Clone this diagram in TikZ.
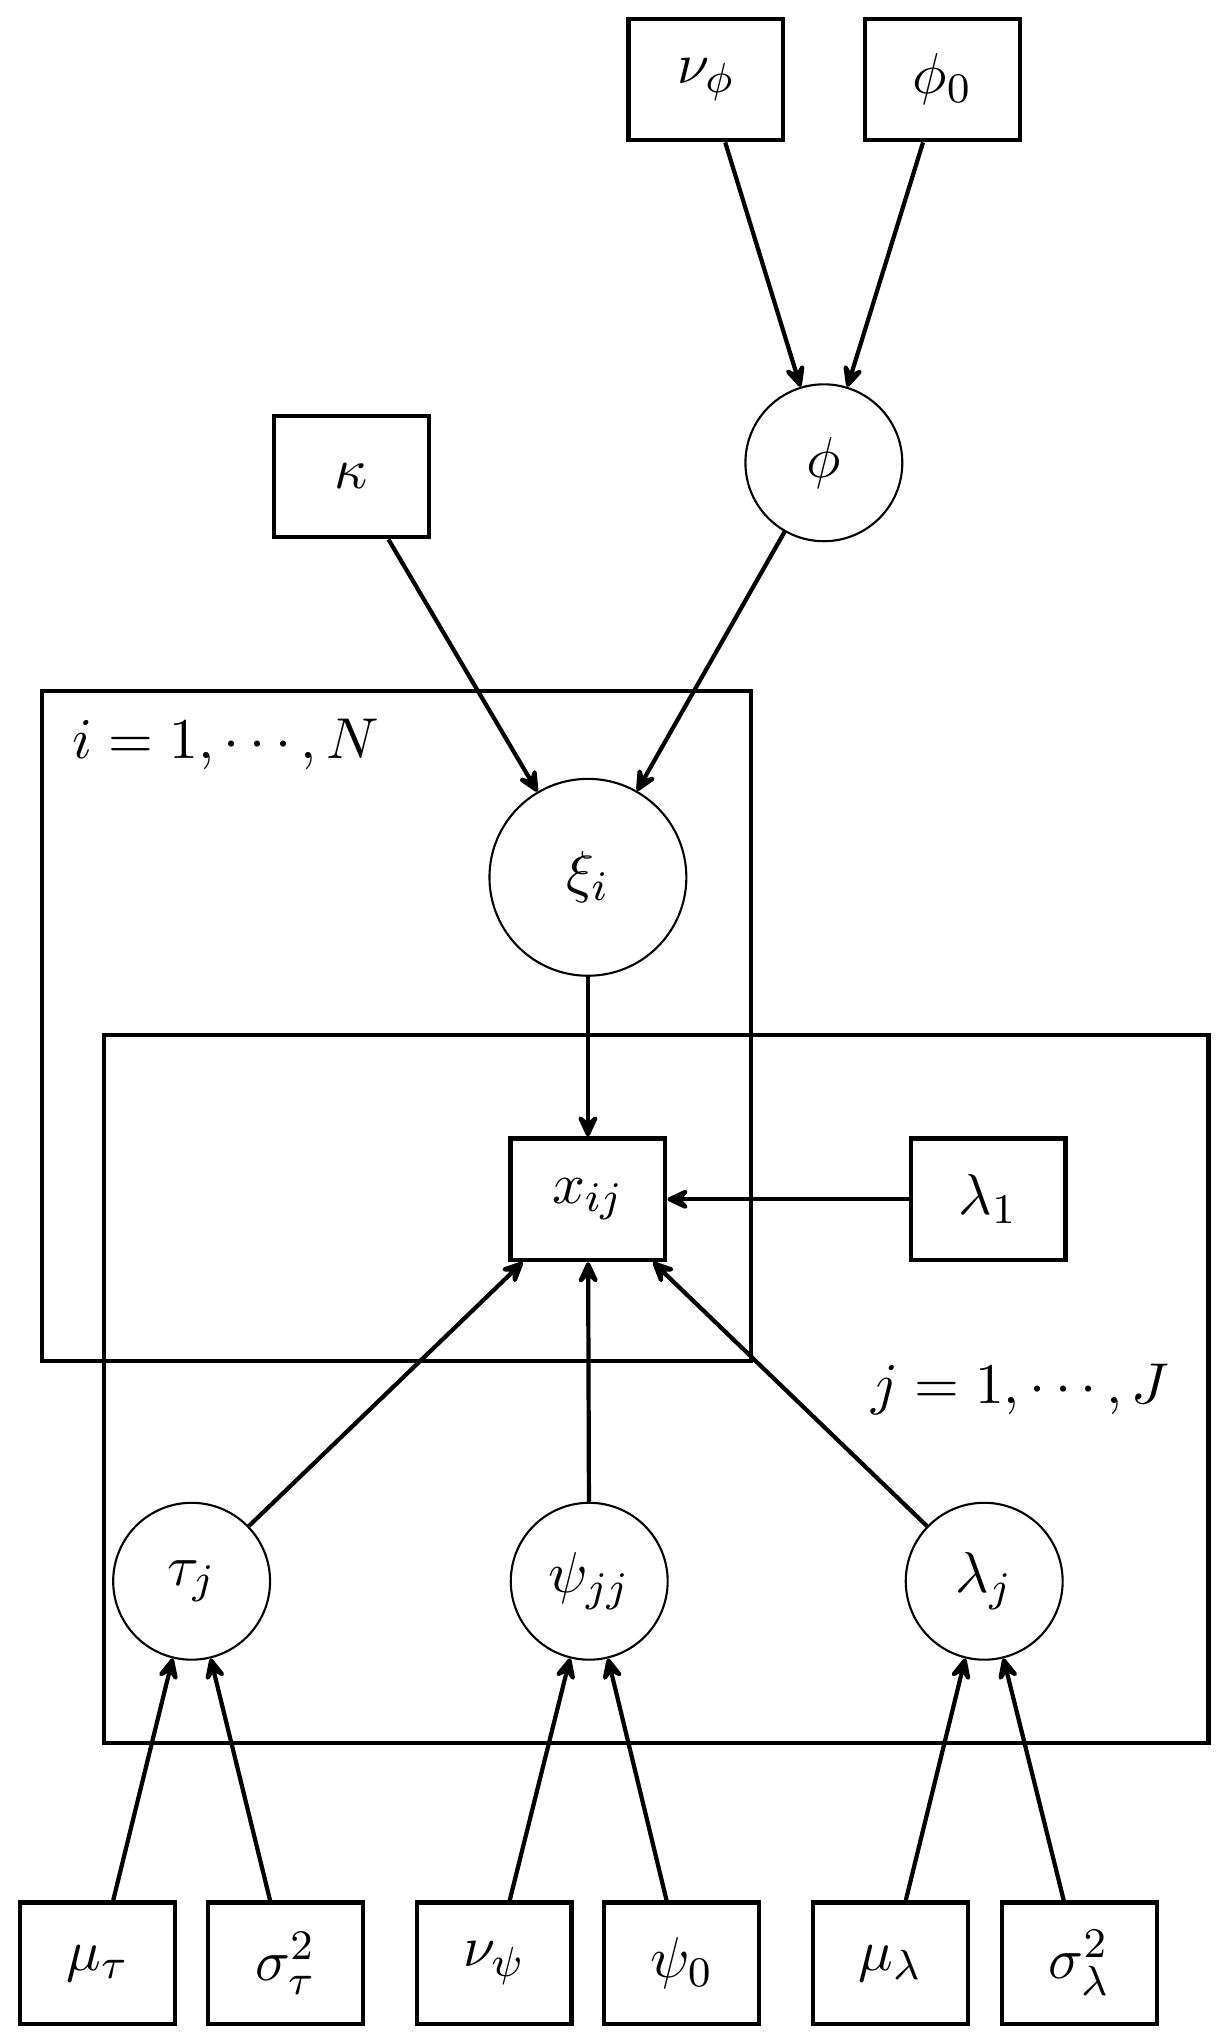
\documentclass[tikz,border=0pt]{standalone}
\usetikzlibrary{arrows.meta}
\begin{document}
\begin{tikzpicture}[x=0.2476pt,y=-0.2476pt,
  font=\fontsize{11pt}{13.6pt}\selectfont,
  box/.style={draw,thick,minimum width=29.4pt,minimum height=23.1pt,inner sep=0pt},
  var/.style={draw,circle,thin,minimum size=29.8pt,inner sep=0pt},
  plate/.style={draw,thick},
  arr/.style={-{Stealth[length=5.6pt,width=5.2pt,inset=2.4pt,round]},thick}]
\useasboundingbox (0,0) rectangle (940,1568);
% plates
\draw[plate] (32,530) rectangle (576,1044);
\draw[plate] (80,794) rectangle (927,1337);
\node[anchor=base west,inner sep=0pt] (ilab) at (55,582) {$i=1,\cdots,N$};
\node[anchor=base east,inner sep=0pt] (jlab) at (898,1077) {$j=1,\cdots,J$};
% nodes
\node[box] (nuphi) at (541.5,61) {$\nu_\phi$};
\node[box] (phi0) at (723,61) {$\phi_0$};
\node[var] (phi) at (632,355) {$\phi$};
\node[box] (kappa) at (269.5,365.5) {$\kappa$};
\node[var,minimum size=37.4pt] (xi) at (451,673) {$\xi_i$};
\node[box] (x) at (451,920) {$x_{ij}$};
\node[box] (lam1) at (758,920) {$\lambda_1$};
\node[var] (tau) at (147,1213) {$\tau_j$};
\node[var] (psi) at (452,1213) {$\psi_{jj}$};
\node[var] (lam) at (755,1213) {$\lambda_j$};
\node[box] (mutau) at (75,1506) {$\mu_\tau$};
\node[box] (sigtau) at (219,1506) {$\sigma^2_\tau$};
\node[box] (nupsi) at (379,1506) {$\nu_\psi$};
\node[box] (psi0) at (523,1506) {$\psi_0$};
\node[box] (mulam) at (683,1506) {$\mu_\lambda$};
\node[box] (siglam) at (828,1506) {$\sigma^2_\lambda$};
% edges
\draw[arr] (nuphi) -- (phi);
\draw[arr] (phi0) -- (phi);
\draw[arr] (kappa) -- (xi);
\draw[arr] (phi) -- (xi);
\draw[arr] (xi) -- (x);
\draw[arr] (lam1) -- (x);
\draw[arr] (tau) -- (x);
\draw[arr] (psi) -- (x);
\draw[arr] (lam) -- (x);
\draw[arr] (mutau) -- (tau);
\draw[arr] (sigtau) -- (tau);
\draw[arr] (nupsi) -- (psi);
\draw[arr] (psi0) -- (psi);
\draw[arr] (mulam) -- (lam);
\draw[arr] (siglam) -- (lam);
\end{tikzpicture}
\end{document}
